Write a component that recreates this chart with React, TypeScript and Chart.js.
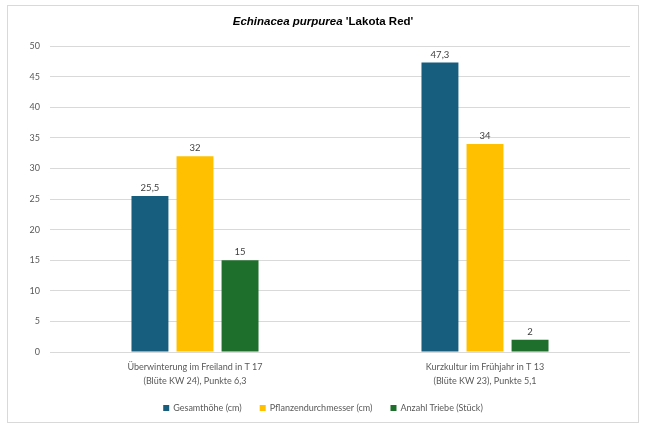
import React, { useEffect, useRef } from "react";
import { Chart, registerables } from "chart.js";

Chart.register(...registerables);

const categories: string[][] = [
  ["Überwinterung im Freiland in T 17", "(Blüte KW 24), Punkte 6,3"],
  ["Kurzkultur im Frühjahr in T 13", "(Blüte KW 23), Punkte 5,1"],
];
const seriesNames = ["Gesamthöhe (cm)", "Pflanzendurchmesser (cm)", "Anzahl Triebe (Stück)"];
const gesamthoehe = [25.5, 47.3];
const durchmesser = [32, 34];
const triebe = [15, 2];
const yMin = 0;
const yMax = 50;
const yStep = 5;

const colors = ["#175e7e", "#ffc000", "#1e6f2b"];

const fmt = (v: number) => String(v).replace(".", ",");

const titlePlugin = {
  id: "customTitle",
  afterDraw(chart: any) {
    const ctx = chart.ctx;
    ctx.save();
    ctx.fillStyle = "#000000";
    ctx.textBaseline = "middle";
    const p1 = "Echinacea purpurea";
    const p2 = " 'Lakota Red'";
    const f1 = "italic bold 11.5px 'Liberation Sans', Arial, sans-serif";
    const f2 = "bold 11.5px 'Liberation Sans', Arial, sans-serif";
    ctx.font = f1;
    const w1 = ctx.measureText(p1).width;
    ctx.font = f2;
    const w2 = ctx.measureText(p2).width;
    const x0 = chart.width / 2 - (w1 + w2) / 2;
    const y = 22;
    ctx.font = f1;
    ctx.textAlign = "left";
    ctx.fillText(p1, x0, y);
    ctx.font = f2;
    ctx.fillText(p2, x0 + w1, y);
    ctx.restore();
  },
};

const legendPlugin = {
  id: "customLegend",
  afterDraw(chart: any) {
    const ctx = chart.ctx;
    ctx.save();
    ctx.font = "9px Lato, sans-serif";
    ctx.textBaseline = "middle";
    ctx.textAlign = "left";
    const box = 6;
    const gapText = 4;
    const gapItem = 18;
    const items = chart.data.datasets.map((ds: any) => ({
      text: ds.label,
      color: ds.backgroundColor,
      w: box + gapText + ctx.measureText(ds.label).width,
    }));
    const total = items.reduce((s: number, it: any) => s + it.w, 0) + gapItem * (items.length - 1);
    let x = chart.width / 2 - total / 2;
    const y = 408;
    items.forEach((it: any) => {
      ctx.fillStyle = it.color;
      ctx.fillRect(x, y - box / 2, box, box);
      ctx.fillStyle = "#595959";
      ctx.fillText(it.text, x + box + gapText, y);
      x += it.w + gapItem;
    });
    ctx.restore();
  },
};

const labelPlugin = {
  id: "valueLabels",
  afterDatasetsDraw(chart: any) {
    const ctx = chart.ctx;
    ctx.save();
    ctx.font = "9.5px Lato, sans-serif";
    ctx.fillStyle = "#404040";
    ctx.textAlign = "center";
    ctx.textBaseline = "alphabetic";
    chart.data.datasets.forEach((ds: any, di: number) => {
      const meta = chart.getDatasetMeta(di);
      meta.data.forEach((el: any, i: number) => {
        const v = ds.data[i];
        ctx.fillText(fmt(v), el.x, el.y - 5);
      });
    });
    ctx.restore();
  },
};

export default function App() {
  const ref = useRef<HTMLCanvasElement | null>(null);
  useEffect(() => {
    if (!ref.current) return;
    Chart.defaults.font.family = "Lato, sans-serif";
    const chart = new Chart(ref.current, {
      type: "bar",
      data: {
        labels: categories,
        datasets: [
          { label: seriesNames[0], data: gesamthoehe, backgroundColor: colors[0] },
          { label: seriesNames[1], data: durchmesser, backgroundColor: colors[1] },
          { label: seriesNames[2], data: triebe, backgroundColor: colors[2] },
        ],
      },
      options: {
        responsive: false,
        animation: false,
        devicePixelRatio: 1,
        layout: { padding: { left: 0, right: 16, top: 46, bottom: 33 } },
        datasets: {
          bar: { categoryPercentage: 0.466, barPercentage: 0.82 },
        },
        scales: {
          x: {
            grid: { display: false, drawTicks: false },
            border: { display: false },
            ticks: {
              color: "#595959",
              font: { size: 9, lineHeight: 1.55 },
              padding: 8,
              maxRotation: 0,
              autoSkip: false,
            },
            afterFit(scale: any) {
              scale.height = 45;
            },
          },
          y: {
            min: yMin,
            max: yMax,
            grid: { color: "#d9d9d9", drawTicks: false, lineWidth: 1 },
            border: { display: false },
            ticks: {
              stepSize: yStep,
              color: "#595959",
              font: { size: 9 },
              padding: 10,
            },
            afterFit(scale: any) {
              scale.width = 50;
            },
          },
        },
        plugins: {
          title: { display: false },
          tooltip: { enabled: false },
          legend: { display: false },
        },
      },
      plugins: [titlePlugin, legendPlugin, labelPlugin],
    } as any);
    return () => chart.destroy();
  }, []);
  return (
    <div style={{ position: "fixed", left: 0, top: 0, width: 646, height: 430, background: "#ffffff" }}>
      <div
        style={{
          position: "absolute",
          left: 7,
          top: 5,
          width: 632,
          height: 418,
          border: "1px solid #d9d9d9",
          boxSizing: "border-box",
        }}
      />
      <canvas ref={ref} width={646} height={430} style={{ position: "absolute", left: 0, top: 0 }} />
    </div>
  );
}
